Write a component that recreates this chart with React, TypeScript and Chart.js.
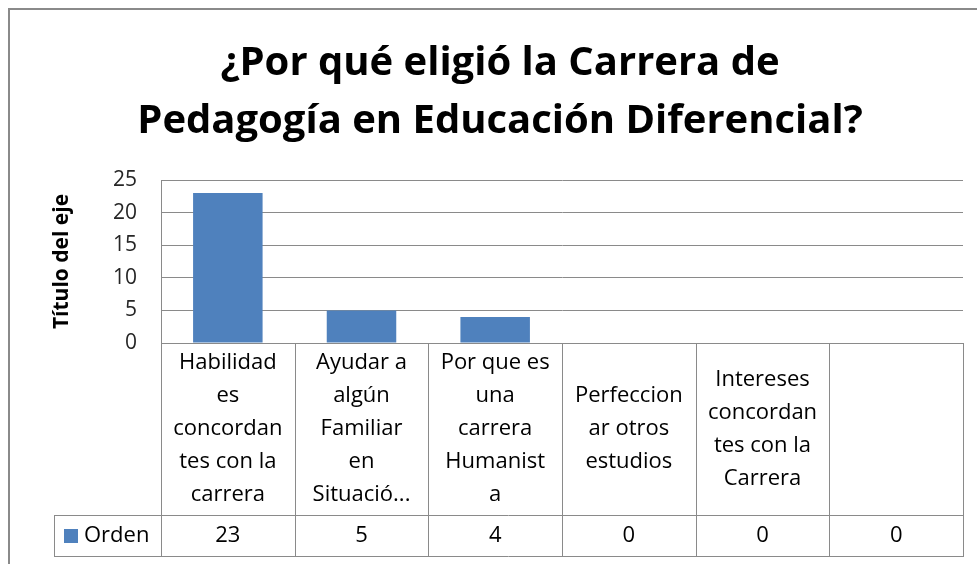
import React, { useEffect, useRef } from "react";
import { Chart, registerables } from "chart.js";

Chart.register(...registerables);

const titleLines = ["¿Por qué eligió la Carrera de", "Pedagogía en Educación Diferencial?"];
const axisTitle = "Título del eje";
const seriesName = "Orden";
const categories = [
  ["Habilidad", "es", "concordan", "tes con la", "carrera"],
  ["Ayudar a", "algún", "Familiar", "en", "Situació..."],
  ["Por que es", "una", "carrera", "Humanist", "a"],
  ["Perfeccion", "ar otros", "estudios"],
  ["Intereses", "concordan", "tes con la", "Carrera"],
  [""],
];
const values = [23, 5, 4, 0, 0, 0];
const yMin = 0;
const yMax = 25;
const yStep = 5;

const W = 984;
const H = 570;
const SIDE = 29;
const LINE = "#8a8a8a";
const BAR = "#4F81BD";
const TABLE_FONT = "'Open Sans', sans-serif";

const tablePlugin = {
  id: "dataTable",
  afterDraw(chart: any) {
    const { ctx, chartArea } = chart;
    const x = chart.scales.x;
    const n = categories.length;
    const colW = (chartArea.right - chartArea.left) / n;
    const top = chartArea.bottom;
    const headBottom = top + 172;
    const rowBottom = headBottom + 41;
    const legendLeft = 46;
    ctx.save();
    // outer chart border (left & top)
    ctx.strokeStyle = "#8a8a8a";
    ctx.lineWidth = 2;
    ctx.beginPath();
    ctx.moveTo(1, H);
    ctx.lineTo(1, 1);
    ctx.lineTo(W, 1);
    ctx.stroke();

    ctx.strokeStyle = LINE;
    ctx.lineWidth = 1;
    ctx.beginPath();
    ctx.moveTo(chartArea.left, Math.round(top) + 0.5);
    ctx.lineTo(chartArea.right, Math.round(top) + 0.5);
    ctx.moveTo(legendLeft, Math.round(headBottom) + 0.5);
    ctx.lineTo(chartArea.right, Math.round(headBottom) + 0.5);
    ctx.moveTo(legendLeft, Math.round(rowBottom) + 0.5);
    ctx.lineTo(chartArea.right, Math.round(rowBottom) + 0.5);
    ctx.moveTo(legendLeft + 0.5, Math.round(headBottom));
    ctx.lineTo(legendLeft + 0.5, Math.round(rowBottom) + 1);
    for (let i = 0; i <= n; i++) {
      const cx = Math.round(x.getPixelForValue(i) - colW / 2) + 0.5;
      ctx.moveTo(cx, Math.round(top));
      ctx.lineTo(cx, Math.round(rowBottom) + 1);
    }
    ctx.stroke();

    ctx.fillStyle = "#000";
    ctx.textAlign = "center";
    ctx.textBaseline = "middle";
    ctx.font = `22px ${TABLE_FONT}`;
    const lh = 33;
    const midHead = (top + headBottom) / 2;
    categories.forEach((lines, i) => {
      const cx = x.getPixelForValue(i);
      const startY = midHead - ((lines.length - 1) * lh) / 2;
      lines.forEach((t, j) => ctx.fillText(t, cx, startY + j * lh));
    });
    const midRow = (headBottom + rowBottom) / 2;
    values.forEach((v, i) => {
      ctx.fillText(String(v), x.getPixelForValue(i), midRow);
    });
    ctx.fillStyle = BAR;
    ctx.fillRect(56, Math.round(midRow) - 7, 14, 14);
    ctx.fillStyle = "#000";
    ctx.textAlign = "left";
    ctx.fillText(seriesName, 76, midRow);
    ctx.restore();
  },
};

export default function App() {
  const ref = useRef<HTMLCanvasElement | null>(null);
  useEffect(() => {
    if (!ref.current) return;
    const chart = new Chart(ref.current, {
      type: "bar",
      data: {
        labels: categories.map((c) => c.join(" ")),
        datasets: [
          {
            label: seriesName,
            data: values,
            backgroundColor: BAR,
            barPercentage: 0.52,
            categoryPercentage: 1,
          },
        ],
      },
      options: {
        responsive: false,
        animation: false,
        devicePixelRatio: 1,
        layout: { padding: { left: SIDE, top: 0, right: W - 955, bottom: H - 335 } },
        plugins: {
          legend: { display: false },
          tooltip: { enabled: false },
          title: {
            display: true,
            text: titleLines,
            color: "#000",
            font: { family: "'Open Sans', sans-serif", size: 40, weight: "bold", lineHeight: 58 / 40 },
            padding: { top: 27, bottom: 29 },
          },
        },
        scales: {
          x: { display: false },
          y: {
            min: yMin,
            max: yMax,
            afterFit: (s: any) => {
              s.width = 153 - SIDE;
            },
            ticks: {
              stepSize: yStep,
              padding: 24,
              color: "#262626",
              font: { family: "'Open Sans', sans-serif", size: 21 },
            },
            grid: { color: LINE, drawTicks: false },
            border: { color: LINE },
            title: {
              display: true,
              text: axisTitle,
              color: "#000",
              font: { family: "'Open Sans', sans-serif", size: 21, weight: "bold" },
              padding: { top: 12, bottom: 0 },
            },
          },
        },
      },
      plugins: [tablePlugin],
    });
    return () => chart.destroy();
  }, []);
  return (
    <div style={{ position: "fixed", left: 8, top: 8, width: W, height: H, background: "#fff" }}>
      <canvas ref={ref} width={W} height={H} style={{ width: W, height: H, display: "block" }} />
    </div>
  );
}
